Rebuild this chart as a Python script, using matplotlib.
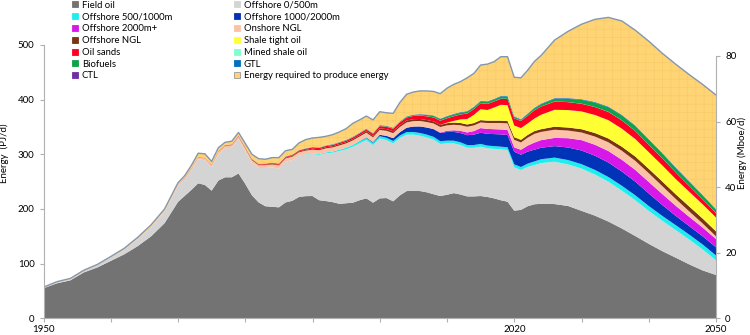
import numpy as np
import matplotlib
matplotlib.use("Agg")
import matplotlib.pyplot as plt
from matplotlib.lines import Line2D

plt.rcParams['font.family'] = ['Lato', 'DejaVu Sans']
plt.rcParams['hatch.linewidth'] = 0.4

# ---------------- data (PJ/d) ----------------
years = list(range(1950, 1971, 2)) + list(range(1971, 2024)) + list(range(2024, 2051, 2))

field_oil = [55, 64, 69.5, 84, 93, 105, 117, 132, 150, 174, 213,
             224, 235, 247, 244, 233.5, 252, 258, 258, 265, 246,
             225, 212, 205, 204, 203, 212, 215, 222, 223.5, 223.7,
             216, 214.5, 212.5, 209.5, 210.5, 211.5, 216, 219.4, 211.5, 219.4,
             220, 214, 225, 232.8, 233, 232.8, 230.5, 227, 223.7, 226,
             229, 226.5, 223, 223, 223.7, 222, 219.4, 216, 213.3, 196.9,
             198.4, 205, 208.6,
             209.5, 209, 205.5, 196.6, 187.8, 177, 164.3, 150.5, 136.3, 123, 111, 98.8, 87.7, 79.2]
offshore_0_500 = [0.6, 1.4, 1.9, 2.3, 3.5, 5.6, 8.0, 12.2, 16.4, 20.4, 28.5,
                  29.5, 36, 44, 45, 42.5, 48, 53, 54, 62.5, 60,
                  59, 63, 70, 72, 71, 74.5, 74.6, 75, 76, 76.9,
                  83, 87.5, 90.5, 96.5, 98.5, 102.5, 104, 106.6, 105.5, 109.6,
                  106, 106, 105, 103.2, 103, 101.2, 100.5, 100, 95.3, 94,
                  91, 90.5, 89, 89, 90.3, 89, 90.6, 93, 94.6, 79.3,
                  72.9, 72, 71.9,
                  74.5, 77.5, 76, 77.4, 75.2, 73, 69.2, 65.5, 60.2, 55.5, 50.5, 45.5, 38.5, 26.8]
offshore_500_1000 = [0] * 11 + [0] * 10 + \
                    [0, 0, 0, 0, 0, 0, 0, 0.3, 0.6, 1] + \
                    [1.3, 1.6, 2, 2.5, 3, 3.3, 3.6, 4, 4, 4.2] + \
                    [4.3, 4.5, 4.5, 4.7, 4.8, 5, 5, 5, 5, 5] + \
                    [5, 5, 5, 5, 5, 5, 5, 5, 5, 5.5] + \
                    [5.5, 6, 6.5] + \
                    [7, 7.5, 8, 8, 8.5, 8.5, 9, 9, 9, 9, 9, 9, 9, 9]
offshore_1000_2000 = [0] * 11 + [0] * 20 + \
                     [0, 0, 0, 0, 0, 0, 0.5, 1, 1.5, 2.5] + \
                     [3.5, 5, 6, 8, 10, 12, 13, 14, 15, 16] + \
                     [16, 17, 18, 19, 20.5, 21.5, 22, 22.5, 22.5, 23] + \
                     [22.5, 22, 21.5] + \
                     [21, 21, 23, 25, 26, 26.5, 26, 25, 23, 20, 17, 15.5, 15, 15]
offshore_2000 = [0] * 11 + [0] * 30 + \
                [0, 0, 0, 0, 0, 0, 0, 0.5, 1, 2] + \
                [3, 4, 5, 6.5, 8.5, 9, 9, 9, 9, 8] + \
                [9, 11, 13] + \
                [14, 15, 17, 19, 20, 21, 21.5, 21.5, 21, 20, 18.5, 17, 16, 15]
onshore_ngl = [0.2, 0.3, 0.3, 0.4, 0.5, 0.6, 0.8, 1.0, 1.3, 1.8, 2.5,
               2.8, 3.2, 3.5, 3.7, 4, 4.3, 4.6, 4.8, 5, 5,
               5, 5, 5.2, 5.5, 5.8, 6, 6.2, 6.5, 6.7, 7,
               7.2, 7.4, 7.6, 7.8, 8, 8.2, 8.4, 8.6, 8.6, 9,
               9.2, 9.3, 9.5, 9.7, 10, 10, 10, 10, 10, 10,
               10, 10.2, 10.4, 10.4, 10.3, 10.8, 11.3, 11.8, 12.2, 13.8,
               13.4, 14.5, 16,
               15, 15, 14, 14, 15, 16, 16.5, 16.5, 16, 14.5, 12.5, 10, 7.5, 5]
offshore_ngl = [0] * 11 + \
               [0.3, 0.3, 0.3, 0.3, 0.5, 0.6, 0.7, 0.7, 0.8, 0.8,
                0.9, 0.9, 1, 1.1, 1.2, 1.3, 1.4, 1.5, 1.6, 1.8,
                1.9, 2, 2.1, 2.2, 2.3, 2.4, 2.5, 2.6, 2.8, 3,
                3.1, 3.2, 3.3, 3.4, 3.5, 3.6, 3.7, 3.8, 3.9, 4,
                4.1, 4.2, 4.2, 4.3, 4.3, 4.3, 4.3, 4.3, 4.3, 4.8,
                4.9, 5, 5] + \
               [5, 5.5, 5.5, 6, 6.5, 7, 7.5, 8, 8, 8.5, 8.5, 9, 9, 9]
shale_tight_oil = [0] * 11 + [0] * 39 + [1] + \
                  [3, 6.5, 10, 15, 20, 19.5, 24, 29, 29, 21.4] + \
                  [21.4, 21, 23] + \
                  [26.5, 31, 32, 32.5, 33, 33.5, 33, 32, 30.5, 29.5, 28, 27, 26, 25.5]
oil_sands = [0] * 11 + \
            [0.3, 0.3, 0.3, 0.3, 0.3, 0.3, 0.4, 0.5, 0.6, 0.8,
             0.9, 1, 1.1, 1.2, 1.3, 1.4, 1.5, 1.6, 1.8, 2,
             2.1, 2.3, 2.5, 2.6, 2.8, 3, 3.2, 3.4, 3.6, 4,
             4.4, 4.8, 5.2, 5.6, 6, 6.4, 6.8, 7.2, 7.6, 8,
             8.5, 9, 10, 10.5, 11, 11, 11, 11, 11.5, 13,
             13, 14, 15] + \
            [15, 15, 14.5, 14, 14.5, 15, 15, 14.5, 13.5, 13, 12, 10.5, 9, 8]
mined_shale_oil = [0.1] * 11 + [0.1] * 20 + [0.2] * 33 + [0.2] * 14
biofuels = [0] * 11 + [0] * 9 + [0.3] + \
           [0.3, 0.4, 0.4, 0.4, 0.5, 0.5, 0.5, 0.5, 0.5, 0.6,
            0.6, 0.6, 0.6, 0.6, 0.6, 0.6, 0.6, 0.7, 0.7, 1,
            1, 1.1, 1.2, 1.3, 1.5, 1.8, 2.2, 2.5, 2.8, 3,
            3, 3, 3, 3, 3.1, 3.5, 3.5, 3.8, 4.3, 2.5,
            1.8, 3, 3.5] + \
           [4, 5, 6, 7, 8, 8.5, 9, 9, 9, 8.5, 8, 7.5, 7, 6]
gtl = [0] * 11 + [0] * 22 + [0.3] * 14 + [0.6] * 4 + [0.9] * 13 + [0.9] * 14
ctl = [0, 0, 0, 0.2, 0.2, 0.2, 0.2, 0.2, 0.2, 0.2, 0.2] + [0.2] * 10 + [0.4] * 43 + [0.4] * 14
energy_required = [1.1, 1.2, 1.2, 1.0, 1.2, 1.5, 1.9, 2.5, 3.0, 3.5, 3.7,
                   3.8, 4.9, 6.6, 7.4, 5.9, 6.5, 5, 5.7, 5.8, 6.8,
                   8.4, 9.2, 7.8, 9.3, 10.7, 10.5, 9.3, 13.1, 15.8, 16.4,
                   18.3, 16.5, 17.3, 18.4, 20.4, 24.3, 23.3, 22.8, 23.9, 24.4,
                   23.6, 26.2, 34.4, 40.4, 41.3, 42.3, 43.1, 43.8, 45.5, 50.8,
                   53.9, 55.6, 60.9, 60.8, 65.2, 67.9, 67.9, 71.7, 71.4, 71.3,
                   75.7, 79, 84.5,
                   88, 106, 122, 137, 151, 163, 171.5, 174, 179, 182, 188.5, 194.7, 201.8, 208.5]

series_names = ["Field oil", "Offshore 0/500m", "Offshore 500/1000m", "Offshore 1000/2000m",
                "Offshore 2000m+", "Onshore NGL", "Offshore NGL", "Shale tight oil",
                "Oil sands", "Mined shale oil", "Biofuels", "GTL", "CTL",
                "Energy required to produce energy"]
series_values = [field_oil, offshore_0_500, offshore_500_1000, offshore_1000_2000,
                 offshore_2000, onshore_ngl, offshore_ngl, shale_tight_oil,
                 oil_sands, mined_shale_oil, biofuels, gtl, ctl, energy_required]
series_colors = ["#737373", "#D4D4D4", "#1EEEEE", "#0033B8",
                 "#D818E8", "#FBC2A6", "#7A3412", "#FFFF33",
                 "#FF0022", "#7FFFD0", "#10A24A", "#0070C0", "#7030A0",
                 "#FFD474"]

x_ticks = list(range(1950, 2051, 10))
x_labels = {1950: "1950", 2020: "2020", 2050: "2050"}
y_ticks = [0, 100, 200, 300, 400, 500]
y2_ticks = [0, 20, 40, 60, 80]
PJ_PER_MBOE = 6.0

# ---------------- figure ----------------
W, H = 750, 335
fig = plt.figure(figsize=(W / 100, H / 100), dpi=100)
ax_left, ax_right, ax_bottom = 43.5, 716, 318.3
ax = fig.add_axes([ax_left / W, (H - ax_bottom) / H, (ax_right - ax_left) / W, ax_bottom / H])
ppu = 0.5466  # pixels per PJ/d
ymax = ax_bottom / ppu

polys = ax.stackplot(years, *series_values, colors=series_colors, linewidth=0, antialiased=True)
polys[-1].set_hatch('++')
polys[-1].set_edgecolor('#F7CA66')
polys[-1].set_linewidth(0)
total = np.sum(np.array(series_values, dtype=float), axis=0)
ax.plot(years, total, color='#8497B0', lw=1.0)

ax.set_xlim(1950, 2050)
ax.set_ylim(0, ymax)
spine_col = '#B0B0B0'
for s in ['top', 'right']:
    ax.spines[s].set_visible(False)
ax.spines['left'].set_color(spine_col)
ax.spines['bottom'].set_color(spine_col)
ax.spines['left'].set_bounds(0, 500)
ax.set_yticks(y_ticks)
ax.set_xticks(x_ticks)
ax.set_xticklabels([x_labels.get(t, "") for t in x_ticks])
ax.tick_params(axis='both', colors=spine_col, labelcolor='black', labelsize=7, length=3, width=0.8)
ax.tick_params(axis='x', pad=2)
ax.set_ylabel("Energy  (PJ/d)", fontsize=7)
ax.yaxis.set_label_coords(-0.052, 0.52)

ax2 = ax.twinx()
ax2.set_ylim(0, ymax / PJ_PER_MBOE)
ax2.set_yticks(y2_ticks)
for s in ['top', 'left', 'bottom']:
    ax2.spines[s].set_visible(False)
ax2.spines['right'].set_color(spine_col)
ax2.spines['right'].set_bounds(0, 80)
ax2.tick_params(axis='y', colors=spine_col, labelcolor='black', labelsize=7, length=3, width=0.8)
ax2.set_ylabel("Energy (Mboe/d)", fontsize=7)
ax2.yaxis.set_label_coords(1.032, 0.52)

# legend: two columns, row-wise order
def handle(i):
    ec = '#9A9A9A' if i == len(series_names) - 1 else series_colors[i]
    return Line2D([], [], marker='s', linestyle='none', markersize=4.5,
                  markerfacecolor=series_colors[i], markeredgecolor=ec, markeredgewidth=0.6)

col1 = list(range(0, len(series_names), 2))
col2 = list(range(1, len(series_names), 2))
for idxs, x0 in [(col1, 72), (col2, 234)]:
    fig.legend([handle(i) for i in idxs], [series_names[i] for i in idxs],
               loc='upper left', bbox_to_anchor=(x0 / W, 1.0 - 0.5 / H),
               frameon=False, fontsize=6.8, handlelength=0.6, handletextpad=0.45,
               labelspacing=0.3, borderpad=0, borderaxespad=0)

fig.savefig("out.png", dpi=100)
